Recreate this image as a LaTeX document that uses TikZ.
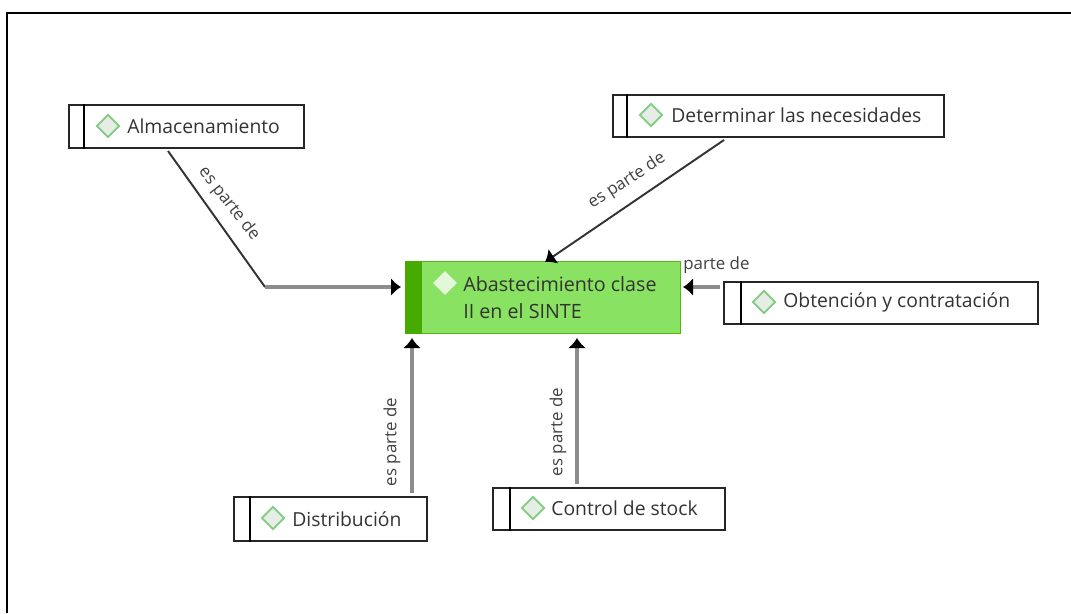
\documentclass[tikz,border=0pt]{standalone}
\usepackage{fontspec}
\setmainfont{Open Sans}
\usetikzlibrary{arrows.meta,calc,positioning,shapes.geometric}
\definecolor{edgegrey}{gray}{0.55}
\definecolor{leafgreen}{RGB}{138,226,98}
\definecolor{bargreen}{RGB}{70,170,0}

\begin{document}
\begin{tikzpicture}[x=0.02cm,y=-0.02cm]

\tikzset{taskbox/.style={draw=black!85,line width=.9pt,fill=white,anchor=north west,inner sep=0pt},
maintask/.style={draw=bargreen!80!leafgreen,line width=.8pt,fill=leafgreen,anchor=north west,inner sep=0pt},
mark diamond/.style={shape=diamond,draw=green!60!black!50,fill=green!30!black!10,line width=1pt,inner sep=0pt,minimum size=4.6mm},
light diamond/.style={shape=diamond,draw=white!80!leafgreen,fill=white!75!leafgreen,line width=1pt,inner sep=0pt,minimum size=4.4mm},
tasklabel/.style={font=\fontsize{11}{15.4}\selectfont,text=black!80,anchor=west,inner sep=0pt},
relation/.style={font=\fontsize{9.6}{11}\selectfont,text=black!75,inner sep=0pt},
blackhead/.style={-{Latex[black,length=.2cm,width=.36cm]}},
partof/.style={draw=edgegrey,line width=2pt,blackhead},
slanted/.style={draw=black!80,line width=1.1pt}}

\useasboundingbox (0,0) rectangle (1071,613);

% Frame (top and left only)
\coordinate (frameB) at (7,613);
\coordinate (frameC) at (7,13);
\coordinate (frameR) at (1071,13);
\draw[line width=1.6pt] (frameB) -- (frameC) -- (frameR);

% Outer tasks
\node (alm) [taskbox,minimum width=4.70cm,minimum height=.86cm] at (68,104) {};
\node (det) [taskbox,minimum width=6.62cm,minimum height=.84cm] at (612,94) {};
\node (obt) [taskbox,minimum width=6.28cm,minimum height=.84cm] at (723,281) {};
\node (dis) [taskbox,minimum width=3.86cm,minimum height=.88cm] at (233,496) {};
\node (con) [taskbox,minimum width=4.64cm,minimum height=.84cm] at (492,487) {};

% Bars
\draw[line width=.9pt] ($(alm.north west)+(16,0)$) -- ($(alm.south west)+(16,0)$);
\draw[line width=.9pt] ($(det.north west)+(15,0)$) -- ($(det.south west)+(15,0)$);
\draw[line width=.9pt] ($(obt.north west)+(18,0)$) -- ($(obt.south west)+(18,0)$);
\draw[line width=.9pt] ($(dis.north west)+(17,0)$) -- ($(dis.south west)+(17,0)$);
\draw[line width=.9pt] ($(con.north west)+(18,0)$) -- ($(con.south west)+(18,0)$);

% Diamonds and labels
\node (almD) [mark diamond] at (108,126) {};
\node (detD) [mark diamond] at (651,115) {};
\node (obtD) [mark diamond] at (764,302) {};
\node (disD) [mark diamond] at (273,518) {};
\node (conD) [mark diamond] at (533,508) {};
\node (almT) [tasklabel] at (127,126) {Almacenamiento};
\node (detT) [tasklabel] at (671,115) {Determinar las necesidades};
\node (obtT) [tasklabel] at (783,302) {Obtención y contratación};
\node (disT) [tasklabel] at (292,519) {Distribución};
\node (conT) [tasklabel] at (551,508) {Control de stock};

% Main task
\node (main) [maintask,minimum width=5.5cm,minimum height=1.44cm] at (405,261) {};
\fill[bargreen] (main.north west) rectangle ($(main.south west)+(17,0)$);
\node (mainD) [light diamond] at (445,283) {};
\node (mainT) [tasklabel,font=\fontsize{11.2}{15.4}\selectfont,align=left] at (463,298) {Abastecimiento clase\\II en el SINTE};

% Edges
\coordinate (almS) at (168,151);
\coordinate (almK) at (265,287);
\coordinate (almE) at (401,287);
\coordinate (detS) at (724,140);
\coordinate (detE) at (545,262);
\coordinate (obtS) at (720,287);
\coordinate (obtE) at (683,287);
\coordinate (disS) at (412,493);
\coordinate (disE) at (412,338);
\coordinate (conS) at (577,484);
\coordinate (conE) at (577,338);
\draw[slanted] (almS) -- (almK);
\draw[partof] (almK) -- (almE);
\draw[slanted,blackhead] (detS) -- (detE);
\draw[partof] (obtS) -- (obtE);
\draw[partof] (disS) -- (disE);
\draw[partof] (conS) -- (conE);

% Edge labels
\node (almL) [relation,rotate=-52] at (229,204) {es parte de};
\node (detL) [relation,rotate=33] at (627,181) {es parte de};
\node (obtL) [relation,anchor=west] at (683,265) {parte de};
\node (disL) [relation,rotate=90] at (392,442) {es parte de};
\node (conL) [relation,rotate=90] at (558,432) {es parte de};

\end{tikzpicture}
\end{document}
